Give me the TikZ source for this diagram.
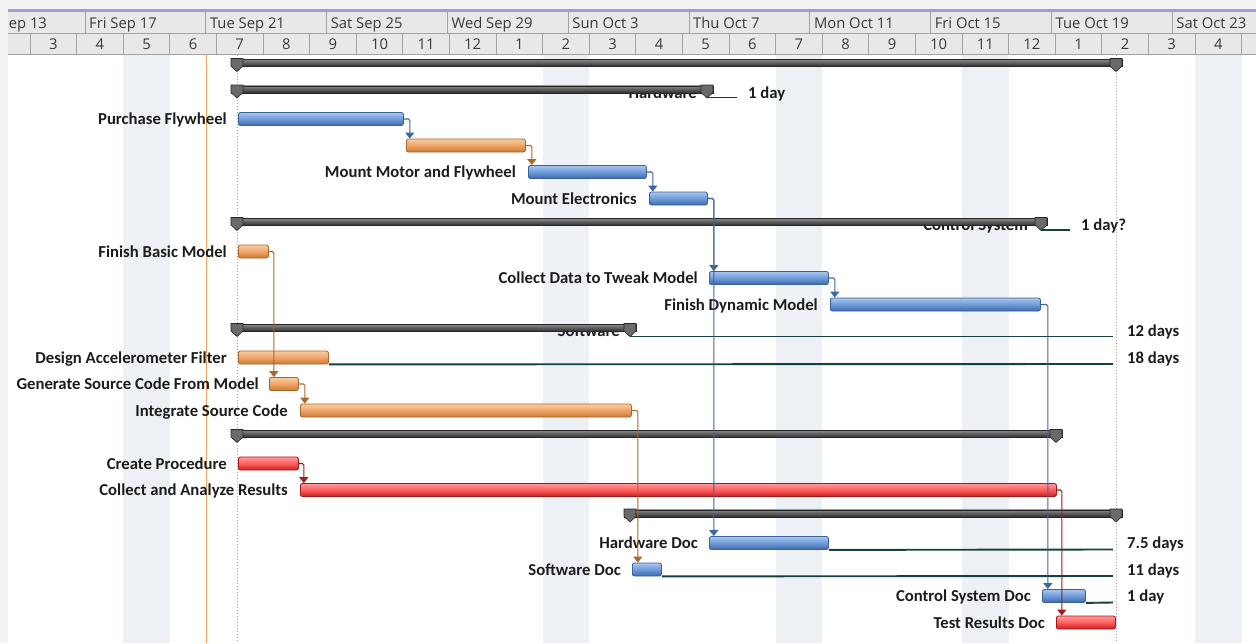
\documentclass[tikz,border=0pt]{standalone}
\usepackage{fontspec}
\setmainfont{Carlito}
\newfontfamily\hdrfont{Open Sans}
\usetikzlibrary{arrows.meta}
\definecolor{band}{HTML}{EDF0F5}
\definecolor{hdrbg}{HTML}{E8E8E8}
\definecolor{hdrline}{HTML}{A3A3A3}
\definecolor{hdrtext}{HTML}{3A3A3A}
\definecolor{topgray}{HTML}{F3F3F3}
\definecolor{lavender}{HTML}{A49ACB}
\definecolor{nowline}{HTML}{F5A35A}
\definecolor{dotgray}{HTML}{A8A8A8}
\definecolor{lbltext}{HTML}{1C1C1C}
\definecolor{bluetop}{HTML}{A9C6EE}
\definecolor{bluemid}{HTML}{6E9BD8}
\definecolor{bluebot}{HTML}{3E69AA}
\definecolor{blueedge}{HTML}{3A6098}
\definecolor{bluelink}{HTML}{3D68A6}
\definecolor{orgtop}{HTML}{F9CDA4}
\definecolor{orgmid}{HTML}{EFA466}
\definecolor{orgbot}{HTML}{C97A36}
\definecolor{orgedge}{HTML}{A8652A}
\definecolor{orglink}{HTML}{B0682A}
\definecolor{redtop}{HTML}{FF9A9A}
\definecolor{redmid}{HTML}{FF5C5C}
\definecolor{redbot}{HTML}{C42222}
\definecolor{rededge}{HTML}{A31616}
\definecolor{redlink}{HTML}{A51B1B}
\definecolor{sumtop}{HTML}{8A8A8A}
\definecolor{sumbot}{HTML}{2E2E2E}
\definecolor{sumedge}{HTML}{262626}
\definecolor{capfill}{HTML}{6A6A6A}
\definecolor{slackc}{HTML}{163F3F}
\tikzset{
  lbl/.style={anchor=base east, inner sep=0pt, text=lbltext, font=\fontsize{16.7}{18}\selectfont\bfseries},
  dur/.style={anchor=base west, inner sep=0pt, text=lbltext, font=\fontsize{16.7}{18}\selectfont\bfseries},
  hdr/.style={inner sep=0pt, text=hdrtext, font=\hdrfont\fontsize{14.8}{16}\selectfont},
  taskbar/.style={anchor=west, inner sep=0pt, minimum height=13pt, rounded corners=2pt, line width=.8pt},
  bluebar/.style={taskbar, draw=blueedge, top color=bluetop, bottom color=bluebot, middle color=bluemid},
  orgbar/.style={taskbar, draw=orgedge, top color=orgtop, bottom color=orgbot, middle color=orgmid},
  redbar/.style={taskbar, draw=rededge, top color=redtop, bottom color=redbot, middle color=redmid},
  sumbar/.style={anchor=north west, inner sep=0pt, minimum height=7pt, draw=sumedge, line width=.6pt, top color=sumtop, bottom color=sumbot},
  scap/.pic={\filldraw[fill=capfill, draw=sumedge, line width=.6pt] (-6,-7.5) -- (6,-7.5) -- (6,0) -- (0,5.5) -- (-6,0) -- cycle;},
  link/.style={line width=1.1pt, rounded corners=1.5pt, -{Triangle[length=6pt,width=9pt]}},
  bluel/.style={link, draw=bluelink},
  orgl/.style={link, draw=orglink},
  redl/.style={link, draw=redlink},
  slack/.style={draw=slackc, line width=1.9pt},
}
\begin{document}
\begin{tikzpicture}[x=1pt,y=-1pt]
\useasboundingbox (0,0) rectangle (1256,643);
\fill[white] (0,0) rectangle (1256,643);
\fill[topgray] (0,0) rectangle (1256,9);
\fill[topgray] (0,0) rectangle (8,643);
\fill[lavender] (8,9) rectangle (1256,11.5);
% header
\begin{scope}
\clip (8,11.5) rectangle (1256,54);
\fill[hdrbg] (8,11.5) rectangle (1256,54);
\draw[hdrline, line width=.8pt] (8,33) -- (1256,33);
\draw[hdrline, line width=1pt] (8,54) -- (1256,54);
\foreach \k in {-1,...,9} {
  \draw[hdrline, line width=.8pt] ({85+120.8*\k},11.5) -- ({85+120.8*\k},33);
}
\foreach \k in {-1,...,26} {
  \draw[hdrline, line width=.8pt] ({30+46.6*\k},33) -- ({30+46.6*\k},54);
}
\node[hdr, anchor=base west] (h0) at (0.5,28.5) {Sep 13};
\foreach \k/\t in {0/Fri Sep 17,1/Tue Sep 21,2/Sat Sep 25,3/Wed Sep 29,4/Sun Oct 3,5/Thu Oct 7,6/Mon Oct 11,7/Fri Oct 15,8/Tue Oct 19,9/Sat Oct 23} {
  \node[hdr, anchor=base west] (ht\k) at ({85+120.8*\k+4},28.5) {\t};
}
\foreach \k/\t in {0/3,1/4,2/5,3/6,4/7,5/8,6/9,7/10,8/11,9/12,10/1,11/2,12/3,13/4,14/5,15/6,16/7,17/8,18/9,19/10,20/11,21/12,22/1,23/2,24/3,25/4} {
  \node[hdr, anchor=base] (hb\k) at ({30+46.6*\k+23.3},49.5) {\t};
}
\end{scope}
% non-working bands
\foreach \k in {2,11,16,20,25} {
  \fill[band] ({30+46.6*\k},55) rectangle ({30+46.6*(\k+1)},643);
}
% date lines
\draw[dotgray, line width=.9pt, dash pattern=on 1pt off 2pt] (237,55) -- (237,643);
\draw[dotgray, line width=.9pt, dash pattern=on 1pt off 2pt] (1116,55) -- (1116,643);
\draw[nowline, line width=1pt] (206.5,55) -- (206.5,643);

% summary labels (partly hidden by their bars)
\node[lbl] (l2) at (697,98) {Hardware};
\node[lbl] (l7) at (1028,230.5) {Control System};
\node[lbl] (l11) at (620,336.5) {Software};

% task labels
\node[lbl] (l3) at (227,124.5) {Purchase Flywheel};
\node[lbl] (l5) at (516,177.5) {Mount Motor and Flywheel};
\node[lbl] (l6) at (637,204) {Mount Electronics};
\node[lbl] (l8) at (227,257) {Finish Basic Model};
\node[lbl] (l9) at (698,283.5) {Collect Data to Tweak Model};
\node[lbl] (l10) at (818,310) {Finish Dynamic Model};
\node[lbl] (l12) at (227,363) {Design Accelerometer Filter};
\node[lbl] (l13) at (259,389.5) {Generate Source Code From Model};
\node[lbl] (l14) at (288,416) {Integrate Source Code};
\node[lbl] (l16) at (227,469) {Create Procedure};
\node[lbl] (l17) at (288,495.5) {Collect and Analyze Results};
\node[lbl] (l19) at (698,548.5) {Hardware Doc};
\node[lbl] (l20) at (621,575) {Software Doc};
\node[lbl] (l21) at (1031,601.5) {Control System Doc};
\node[lbl] (l22) at (1045,628) {Test Results Doc};

% durations
\node[dur] (d2) at (748,98) {1 day};
\node[dur] (d7) at (1081,230.5) {1 day?};
\node[dur] (d11) at (1127,336.5) {12 days};
\node[dur] (d12) at (1127,363) {18 days};
\node[dur] (d19) at (1127,548.5) {7.5 days};
\node[dur] (d20) at (1127,575) {11 days};
\node[dur] (d21) at (1127,601.5) {1 day};

% slack end coordinates
\coordinate (e2) at (737,97.5);
\coordinate (e7) at (1070,230);
\coordinate (e11) at (1113,336.5);
\coordinate (e12) at (1113,364);
\coordinate (e19) at (1113,549.5);
\coordinate (e20) at (1113,576);
\coordinate (e21) at (1113,602.5);

% summary bars
\node[sumbar, minimum width=891pt] (s1) at (231,59) {};
\pic at (237,66) {scap}; \pic at (1116,66) {scap};
\node[sumbar, minimum width=482pt] (s2) at (231,85.5) {};
\pic at (237,92.5) {scap}; \pic at (707,92.5) {scap};
\node[sumbar, minimum width=816pt] (s7) at (231,218) {};
\pic at (237,225) {scap}; \pic at (1041,225) {scap};
\node[sumbar, minimum width=405pt] (s11) at (231,324) {};
\pic at (237,331) {scap}; \pic at (630,331) {scap};
\node[sumbar, minimum width=831pt] (s15) at (231,430) {};
\pic at (237,437) {scap}; \pic at (1056,437) {scap};
\node[sumbar, minimum width=498pt] (s18) at (624,509.5) {};
\pic at (630,516.5) {scap}; \pic at (1116,516.5) {scap};

% slack lines
\draw[slack] (707,97.5) -- (e2);
\draw[slack] (1041,230) -- (e7);
\draw[slack] (630,336.5) -- (e11);

% task bars
\node[bluebar, minimum width=165pt] (t3) at (238,119) {};
\node[orgbar, minimum width=119pt] (t4) at (406,145.5) {};
\node[bluebar, minimum width=118pt] (t5) at (528,172) {};
\node[bluebar, minimum width=58pt] (t6) at (649,198.5) {};
\node[orgbar, minimum width=30pt] (t8) at (238,251.5) {};
\node[bluebar, minimum width=119pt] (t9) at (709,278) {};
\node[bluebar, minimum width=210pt] (t10) at (830,304.5) {};
\node[orgbar, minimum width=90pt] (t12) at (238,357.5) {};
\node[orgbar, minimum width=29pt] (t13) at (269,384) {};
\node[orgbar, minimum width=331pt] (t14) at (300,410.5) {};
\node[redbar, minimum width=60pt] (t16) at (238,463.5) {};
\node[redbar, minimum width=756pt] (t17) at (300,490) {};
\node[bluebar, minimum width=119pt] (t19) at (709,543) {};
\node[bluebar, minimum width=29pt] (t20) at (632,569.5) {};
\node[bluebar, minimum width=43pt] (t21) at (1042,596) {};
\node[redbar, minimum width=59pt] (t22) at (1056,622.5) {};

\draw[slack] (t12.south east) -- (e12);
\draw[slack] (t19.south east) -- (e19);
\draw[slack] (t20.south east) -- (e20);
\draw[slack] (t21.south east) -- (e21);

% links
\draw[bluel] (t3.east) -| ([xshift=6pt]t3.east |- t4.north);
\draw[orgl] (t4.east) -| ([xshift=6pt]t4.east |- t5.north);
\draw[bluel] (t5.east) -| ([xshift=6pt]t5.east |- t6.north);
\draw[bluel] (t6.east) -| ([xshift=6pt]t6.east |- t19.north);
\draw[bluel] (t6.east) -| ([xshift=6pt]t6.east |- t9.north);
\draw[bluel] (t9.east) -| ([xshift=6pt]t9.east |- t10.north);
\draw[bluel] (t10.east) -| ([xshift=7pt]t10.east |- t21.north);
\draw[orgl] (t8.east) -| ([xshift=5pt]t8.east |- t13.north);
\draw[orgl] (t13.east) -| ([xshift=6pt]t13.east |- t14.north);
\draw[orgl] (t14.east) -| ([xshift=6pt]t14.east |- t20.north);
\draw[redl] (t16.east) -| ([xshift=5pt]t16.east |- t17.north);
\draw[redl] (t17.east) -| ([xshift=5pt]t17.east |- t22.north);
\end{tikzpicture}
\end{document}
